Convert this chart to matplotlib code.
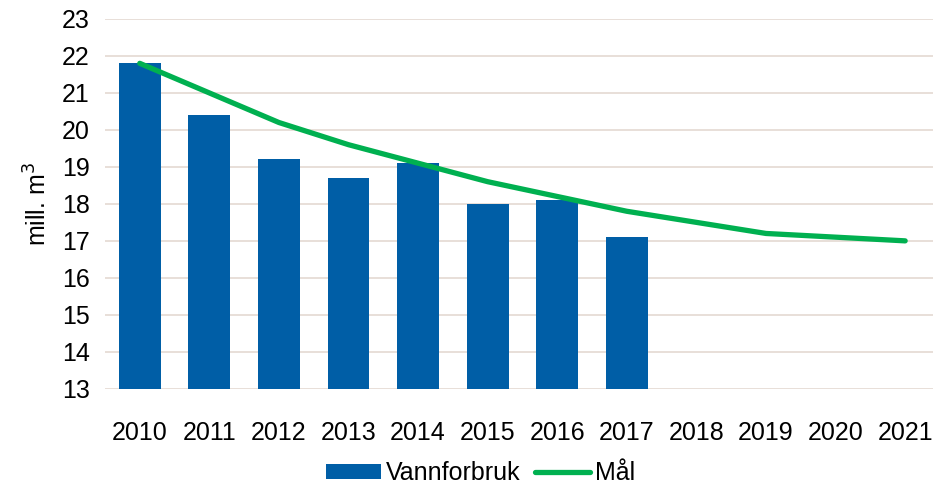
import matplotlib
matplotlib.use("Agg")
import matplotlib.pyplot as plt
from matplotlib.lines import Line2D
from matplotlib.patches import Patch
import numpy as np

years = ["2010", "2011", "2012", "2013", "2014", "2015", "2016", "2017", "2018", "2019", "2020", "2021"]
vannforbruk = [21.8, 20.4, 19.2, 18.7, 19.1, 18.0, 18.1, 17.1]
maal = [21.8, 21.0, 20.2, 19.6, 19.1, 18.6, 18.2, 17.8, 17.5, 17.2, 17.1, 17.0]

plt.rcParams['font.family'] = ['Liberation Sans', 'DejaVu Sans']
FS = 18

fig = plt.figure(figsize=(9.33, 4.86), dpi=100)
ax = fig.add_axes([0.1125, 0.2, 0.8875, 0.761])

x = np.arange(len(years))
ax.bar(x[:len(vannforbruk)], vannforbruk, width=0.6, color="#005EA6",
       label="Vannforbruk", zorder=2)
ax.plot(x, maal, color="#00B050", linewidth=3.8, solid_capstyle="round",
        label="Mål", zorder=3)

ax.set_ylim(13, 23)
ax.set_xlim(-0.5, 11.4)
ax.set_yticks(range(13, 24))
ax.set_xticks(x)
ax.set_xticklabels(years)
ax.tick_params(axis="both", length=0, labelsize=FS, colors="black")
ax.tick_params(axis="x", pad=23)
ax.tick_params(axis="y", pad=11)
ax.grid(axis="y", color="#E6DCD6", linewidth=1.3, zorder=0)
ax.set_axisbelow(True)
for s in ax.spines.values():
    s.set_visible(False)

ax.set_ylabel("mill. m$^3$", fontsize=FS, labelpad=7)

handles = [Patch(facecolor="#005EA6", label="Vannforbruk"),
           Line2D([0], [0], color="#00B050", linewidth=3.8, solid_capstyle="round", label="Mål")]
fig.legend(handles=handles, loc="lower center", bbox_to_anchor=(0.515, -0.045), ncol=2,
           frameon=False, fontsize=FS, handlelength=2.2, handleheight=0.6,
           columnspacing=0.6, handletextpad=0.2)

fig.savefig("out.png", dpi=100)
